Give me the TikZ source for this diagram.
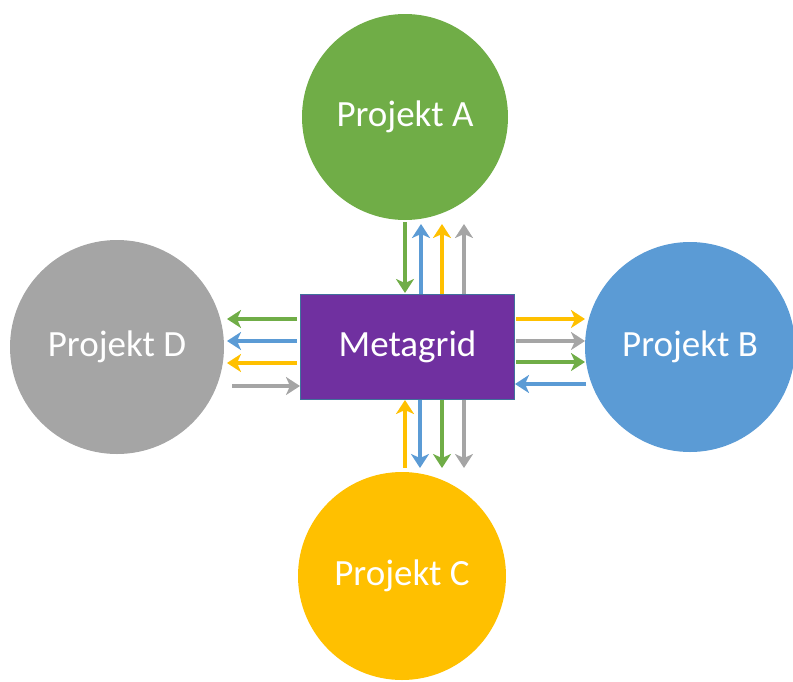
\documentclass[tikz,border=0pt]{standalone}
\usepackage{fontspec}
\setmainfont{Carlito}
\usetikzlibrary{arrows.meta}
\definecolor{cgreen}{HTML}{70AD47}
\definecolor{cblue}{HTML}{5B9BD5}
\definecolor{corange}{HTML}{FFC000}
\definecolor{cgray}{HTML}{A5A5A5}
\definecolor{cpurple}{HTML}{7030A0}
\definecolor{cedge}{HTML}{41719C}
\tikzset{
  proj/.style={circle, minimum size=#1, inner sep=0pt, text=white, font=\fontsize{37}{42}\selectfont},
  conn/.style={line width=3.2pt, -{Stealth[length=14pt, width=18pt, inset=4pt]}}
}
\begin{document}
\begin{tikzpicture}[x=1pt, y=-1pt]
\useasboundingbox (0,0) rectangle (793,681);
\node[proj=206pt, fill=cgreen] (A) at (405,117) {Projekt A};
\node[proj=210pt, fill=cblue] (B) at (690,347) {Projekt B};
\node[proj=208pt, fill=corange] (C) at (402,576) {Projekt C};
\node[proj=214pt, fill=cgray] (D) at (117,347) {Projekt D};
\node[draw=cedge, line width=1pt, fill=cpurple, text=white, minimum width=214pt, minimum height=105pt, inner sep=0pt, font=\fontsize{37}{42}\selectfont] (M) at (407.5,347) {Metagrid};
% top
\coordinate (t1a) at (405,222); \coordinate (t1b) at (405,293);
\coordinate (t2a) at (421,294); \coordinate (t2b) at (421,224);
\coordinate (t3a) at (442,294); \coordinate (t3b) at (442,224);
\coordinate (t4a) at (464,294); \coordinate (t4b) at (464,224);
\draw[conn, cgreen] (t1a) -- (t1b);
\draw[conn, cblue] (t2a) -- (t2b);
\draw[conn, corange] (t3a) -- (t3b);
\draw[conn, cgray] (t4a) -- (t4b);
% bottom
\coordinate (b1a) at (405,468); \coordinate (b1b) at (405,400);
\coordinate (b2a) at (420,400); \coordinate (b2b) at (420,468);
\coordinate (b3a) at (442,400); \coordinate (b3b) at (442,468);
\coordinate (b4a) at (464,400); \coordinate (b4b) at (464,468);
\draw[conn, corange] (b1a) -- (b1b);
\draw[conn, cblue] (b2a) -- (b2b);
\draw[conn, cgreen] (b3a) -- (b3b);
\draw[conn, cgray] (b4a) -- (b4b);
% left
\coordinate (l1a) at (297,319); \coordinate (l1b) at (227,319);
\coordinate (l2a) at (297,341); \coordinate (l2b) at (227,341);
\coordinate (l3a) at (297,363); \coordinate (l3b) at (227,363);
\coordinate (l4a) at (232,386); \coordinate (l4b) at (300,386);
\draw[conn, cgreen] (l1a) -- (l1b);
\draw[conn, cblue] (l2a) -- (l2b);
\draw[conn, corange] (l3a) -- (l3b);
\draw[conn, cgray] (l4a) -- (l4b);
% right
\coordinate (r1a) at (516,319); \coordinate (r1b) at (585,319);
\coordinate (r2a) at (516,341); \coordinate (r2b) at (585,341);
\coordinate (r3a) at (516,362); \coordinate (r3b) at (585,362);
\coordinate (r4a) at (586,384); \coordinate (r4b) at (515,384);
\draw[conn, corange] (r1a) -- (r1b);
\draw[conn, cgray] (r2a) -- (r2b);
\draw[conn, cgreen] (r3a) -- (r3b);
\draw[conn, cblue] (r4a) -- (r4b);
\end{tikzpicture}
\end{document}
